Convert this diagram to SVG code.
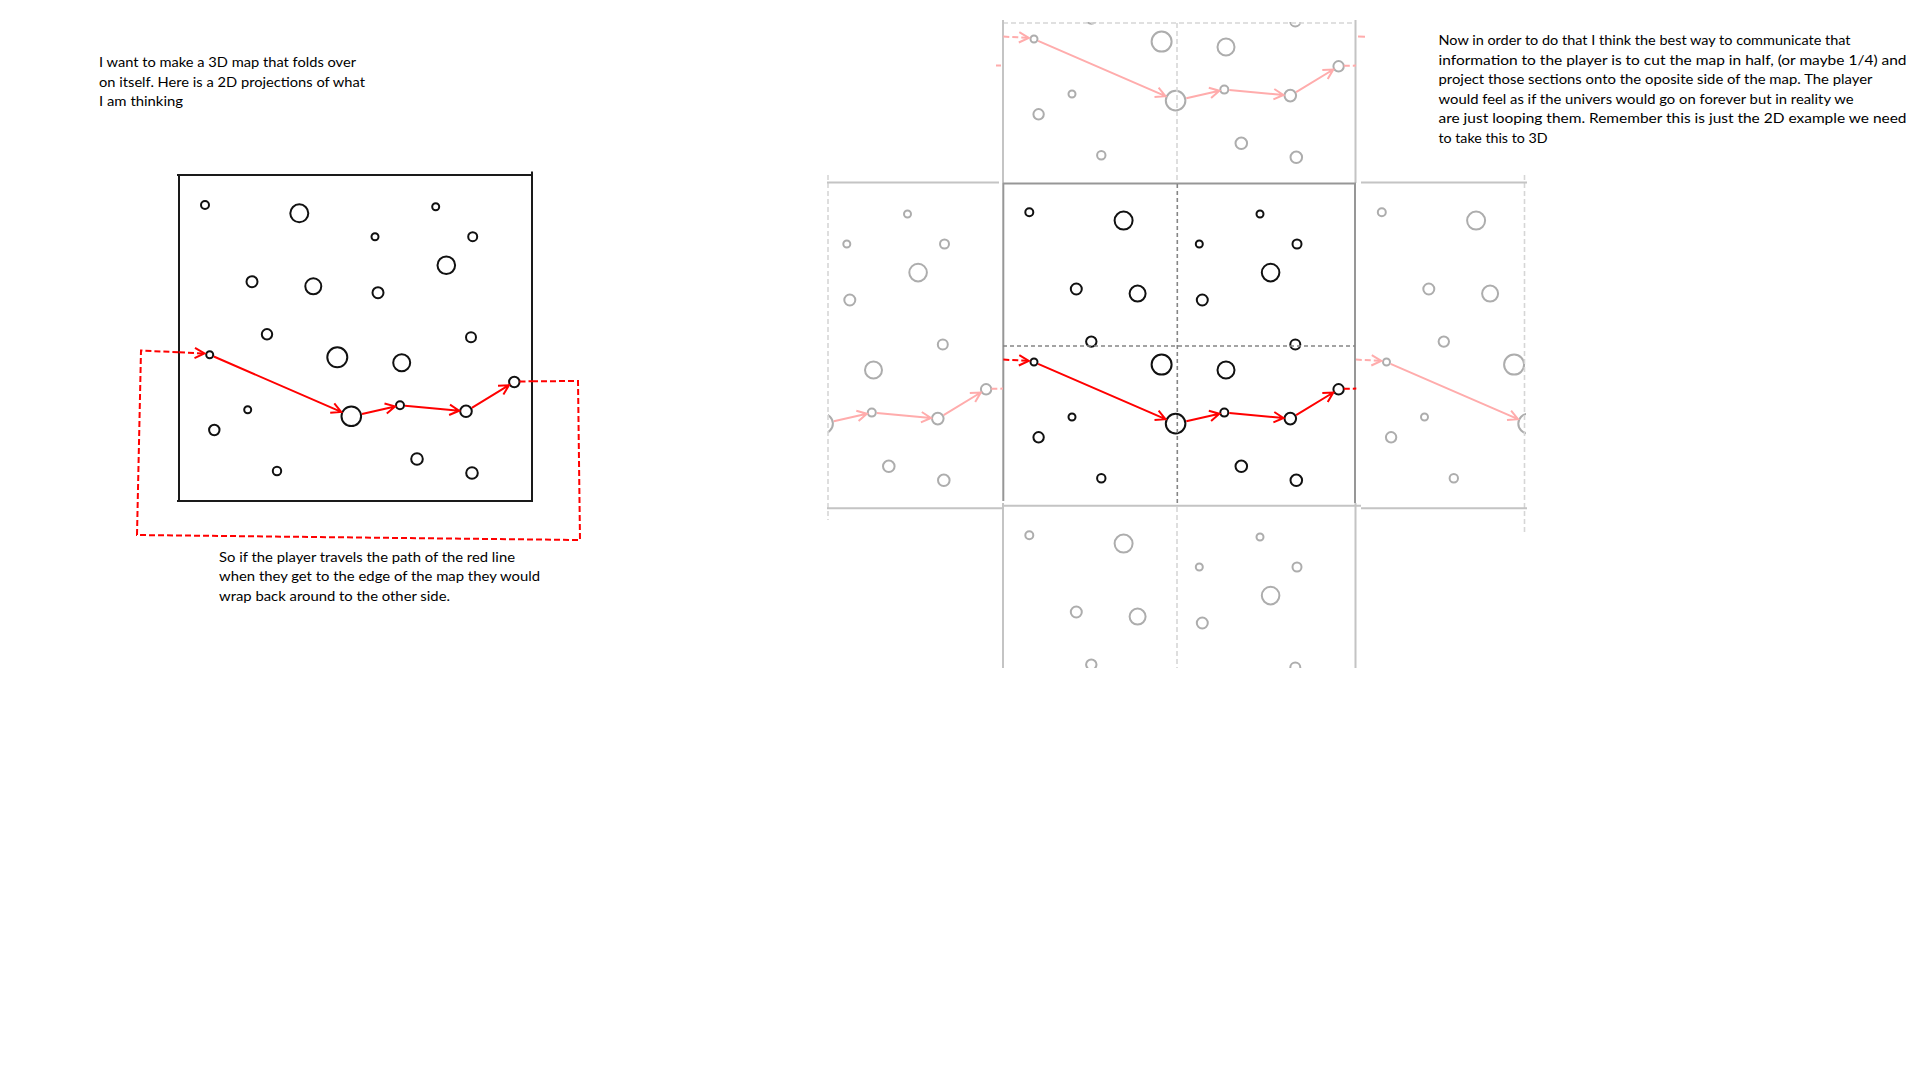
<svg xmlns="http://www.w3.org/2000/svg" xmlns:xlink="http://www.w3.org/1999/xlink" width="1920" height="1080" viewBox="0 0 1920 1080">
<style>
.txt{font-family:Lato,"Liberation Sans",sans-serif;font-size:13.8px;fill:#000}
.ink{stroke:#111;stroke-width:2;fill:none}
.ghost{stroke:#adadad;stroke-width:2;fill:none}
.red{stroke:#ff0000;stroke-width:2;fill:none}
.pink{stroke:#ffacac;stroke-width:2;fill:none}
.dash{stroke-dasharray:6 3}
.frame{stroke:#1a1a1a;stroke-width:2;fill:none}
.mainb{stroke:#979797;stroke-width:2;fill:none}
.mid{stroke:#858585;stroke-width:1.6;fill:none;stroke-dasharray:4 3}
.lite{stroke:#c4c4c4;stroke-width:2;fill:none}
.litedash{stroke:#d6d6d6;stroke-width:1.6;fill:none;stroke-dasharray:5 3}
</style>
<defs>
<g id="stars">
<circle cx="205" cy="205" r="4"/>
<circle cx="299.3" cy="213.3" r="9"/>
<circle cx="435.7" cy="206.7" r="3.5"/>
<circle cx="375" cy="236.7" r="3.5"/>
<circle cx="472.7" cy="236.7" r="4.5"/>
<circle cx="446.3" cy="265.3" r="8.8"/>
<circle cx="252" cy="281.7" r="5.5"/>
<circle cx="313.3" cy="286.3" r="8"/>
<circle cx="378" cy="292.7" r="5.5"/>
<circle cx="267" cy="334.3" r="5.2"/>
<circle cx="471" cy="337.3" r="5"/>
<circle cx="209.7" cy="354.7" r="3.5"/>
<circle cx="337.3" cy="357.3" r="10"/>
<circle cx="401.7" cy="362.7" r="8.5"/>
<circle cx="514.3" cy="382" r="5.2"/>
<circle cx="247.7" cy="409.7" r="3.5"/>
<circle cx="400" cy="405.3" r="4"/>
<circle cx="351.3" cy="416.3" r="9.8"/>
<circle cx="466" cy="411.3" r="5.8"/>
<circle cx="214.3" cy="430" r="5.2"/>
<circle cx="417" cy="459" r="5.8"/>
<circle cx="472" cy="473" r="5.8"/>
<circle cx="277" cy="471" r="4.2"/>
</g>
<g id="route">
<path d="M213.8,356.5 L341.2,411.9 M334.3,403.3 L341.2,411.9 L330.2,412.8"/>
<path d="M362,413.9 L395.1,406.4 M384.5,403.5 L395.1,406.4 L386.8,413.6"/>
<path d="M405,405.8 L459.2,410.7 M450,404.7 L459.2,410.7 L449.1,415"/>
<path d="M471.8,407.8 L509,385.2 M498,385.8 L509,385.2 L503.4,394.6"/>
<path d="M179,352.3 L203.5,353.5" stroke-dasharray="6 3"/>
<path d="M195,347.9 L204.5,353.5 L194.5,358.2"/>
<path d="M519.5,381.5 L532,381.3" stroke-dasharray="6 3"/>
</g>
<clipPath id="cTop"><rect x="1003" y="22" width="353" height="162"/></clipPath>
<clipPath id="cBot"><rect x="1003" y="506" width="353" height="162"/></clipPath>
<clipPath id="cLeft"><rect x="828" y="183" width="175" height="325"/></clipPath>
<clipPath id="cRight"><rect x="1356" y="183" width="170" height="325"/></clipPath>
</defs>
<rect width="1920" height="1080" fill="#fff"/>

<g id="note-intro">
<text class="txt" x="99" y="67" textLength="257" lengthAdjust="spacingAndGlyphs">I want to make a 3D map that folds over</text>
<text class="txt" x="99" y="86.6" textLength="266" lengthAdjust="spacingAndGlyphs">on itself. Here is a 2D projections of what</text>
<text class="txt" x="99" y="106.2" textLength="84" lengthAdjust="spacingAndGlyphs">I am thinking</text>
</g>

<g id="note-wrap">
<text class="txt" x="219" y="561.5" textLength="296" lengthAdjust="spacingAndGlyphs">So if the player travels the path of the red line</text>
<text class="txt" x="219" y="581.1" textLength="321" lengthAdjust="spacingAndGlyphs">when they get to the edge of the map they would</text>
<text class="txt" x="219" y="600.7" textLength="231" lengthAdjust="spacingAndGlyphs">wrap back around to the other side.</text>
</g>

<g id="note-projection">
<text class="txt" x="1438.5" y="45" textLength="412" lengthAdjust="spacingAndGlyphs">Now in order to do that I think the best way to communicate that</text>
<text class="txt" x="1438.5" y="64.6" textLength="468" lengthAdjust="spacingAndGlyphs">information to the player is to cut the map in half, (or maybe 1/4) and</text>
<text class="txt" x="1438.5" y="84.2" textLength="434" lengthAdjust="spacingAndGlyphs">project those sections onto the oposite side of the map. The player</text>
<text class="txt" x="1438.5" y="103.8" textLength="415" lengthAdjust="spacingAndGlyphs">would feel as if the univers would go on forever but in reality we</text>
<text class="txt" x="1438.5" y="123.4" textLength="468" lengthAdjust="spacingAndGlyphs">are just looping them. Remember this is just the 2D example we need</text>
<text class="txt" x="1438.5" y="143" textLength="109" lengthAdjust="spacingAndGlyphs">to take this to 3D</text>
</g>

<!-- original map -->
<g id="map-original">
<path class="frame" d="M177,175 L533,175 M532,171.5 L532,502 M177,501 L533,501 M179,174 L179,502"/>
<use xlink:href="#stars" href="#stars" class="ink"/>
</g>

<!-- tiled map -->
<g id="tile-top" clip-path="url(#cTop)">
<use xlink:href="#stars" href="#stars" class="ghost" transform="translate(824.3,-315.7)"/>
</g>
<g id="tile-bottom" clip-path="url(#cBot)">
<use xlink:href="#stars" href="#stars" class="ghost" transform="translate(824.3,330.3)"/>
</g>
<g id="tile-left" clip-path="url(#cLeft)">
<use xlink:href="#stars" href="#stars" class="ghost" transform="translate(471.8,7.3)"/>
</g>
<g id="tile-right" clip-path="url(#cRight)">
<use xlink:href="#stars" href="#stars" class="ghost" transform="translate(1176.8,7.3)"/>
</g>
<g id="tile-main">
<use xlink:href="#stars" href="#stars" class="ink" transform="translate(824.3,7.3)"/>
</g>

<g id="tile-frames">
<path class="litedash" d="M1003,23 L1355,23 M1177,23 L1177,183 M1177,507 L1177,668 M828,175 L828,520 M1524.5,175 L1524.5,535"/>
<path class="lite" d="M1003,20 L1003,183 M1355.5,20 L1355.5,183 M827,182.5 L999,182.5 M1361,182.5 L1527,182.5 M827,508.3 L1002,508.3 M1361,508.3 L1527,508.3 M1003,505.7 L1361,505.7 M1003,503 L1003,668 M1355.5,503 L1355.5,668"/>
<path class="mainb" d="M1003,183.5 L1356,183.5 M1003.3,183 L1003.3,501 M1355,183 L1355,503"/>
<path class="mid" d="M1003,346 L1355,346 M1177.3,184 L1177.3,506"/>
</g>

<g id="connectors">
<path class="red dash" d="M532,381.3 L578,381 L580,540 L137,535 L141,350.5 L179,352.3"/>
<use xlink:href="#route" href="#route" class="red"/>
<use xlink:href="#route" href="#route" class="red" transform="translate(824.3,7.3)"/>
<g clip-path="url(#cTop)"><use xlink:href="#route" href="#route" class="pink" transform="translate(824.3,-315.7)"/></g>
<g clip-path="url(#cLeft)"><use xlink:href="#route" href="#route" class="pink" transform="translate(471.8,7.3)"/></g>
<g clip-path="url(#cRight)"><use xlink:href="#route" href="#route" class="pink" transform="translate(1176.8,7.3)"/></g>
<path class="pink" d="M1358,36.6 L1365,36.8 M996,65.6 L1001,65.6"/>
</g>
</svg>
